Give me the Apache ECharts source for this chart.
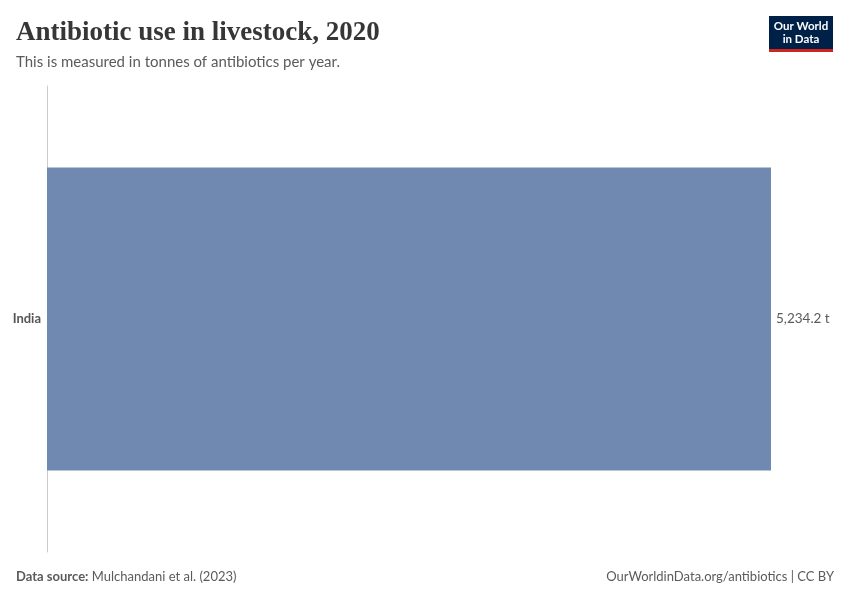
<!DOCTYPE html>
<html><head><meta charset="utf-8">
<script src="https://cdn.jsdelivr.net/npm/echarts@6/dist/echarts.min.js"></script>
<style>html,body{margin:0;padding:0;background:#fff}#c{width:850px;height:600px}</style>
</head><body><div id="c"></div>
<script>
const categories = ['India'];
const values = [5234.2];
const unit = ' t';

const chart = echarts.init(document.getElementById('c'));
chart.setOption({
  backgroundColor: '#ffffff',
  animation: false,
  title: [
    {text: 'Antibiotic use in livestock, 2020', left: 16, top: 20, padding: 0,
     textStyle: {fontFamily: 'Liberation Serif', fontWeight: 'bold', fontSize: 27, color: '#363636'}},
    {text: 'This is measured in tonnes of antibiotics per year.', left: 16, top: 55, padding: 0,
     textStyle: {fontFamily: 'Lato', fontWeight: 'normal', fontSize: 15, color: '#5b5b5b'}}
  ],
  graphic: [
    {type: 'rect', left: 769, top: 16, shape: {width: 64, height: 34}, style: {fill: '#002147'}},
    {type: 'rect', left: 769, top: 49, shape: {width: 64, height: 3}, style: {fill: '#ce261e'}},
    {type: 'text', x: 801, y: 33, style: {text: 'Our World\nin Data', fill: '#fff', font: 'bold 11.5px Lato', align: 'center', verticalAlign: 'middle', lineHeight: 13}},
    {type: 'text', left: 16, top: 570, style: {rich: {b: {fontFamily: 'Lato', fontSize: 13, fontWeight: 'bold', fill: '#5b5b5b'}, n: {fontFamily: 'Lato', fontSize: 13, fill: '#5b5b5b'}}, text: '{b|Data source:} {n|Mulchandani et al. (2023)}'}},
    {type: 'text', right: 16, top: 570, style: {text: 'OurWorldinData.org/antibiotics | CC BY', font: '13px Lato', fill: '#5b5b5b'}}
  ],
  grid: {left: 47, right: 79, top: 86, bottom: 48},
  xAxis: {type: 'value', min: 0, max: values[0], show: false},
  yAxis: {type: 'category', data: categories,
    axisLine: {lineStyle: {color: '#cccccc'}}, axisTick: {show: false},
    axisLabel: {fontFamily: 'Lato', fontWeight: 'bold', fontSize: 13, color: '#555555', margin: 6}},
  series: [{type: 'bar', data: values, barWidth: 303,
    itemStyle: {color: '#7089b0'},
    label: {show: true, position: 'right', distance: 5, fontFamily: 'Lato', fontSize: 13.5, color: '#5b5b5b',
      formatter: p => p.value.toLocaleString('en-US', {minimumFractionDigits: 1, maximumFractionDigits: 1}) + unit}}]
});
</script></body></html>
